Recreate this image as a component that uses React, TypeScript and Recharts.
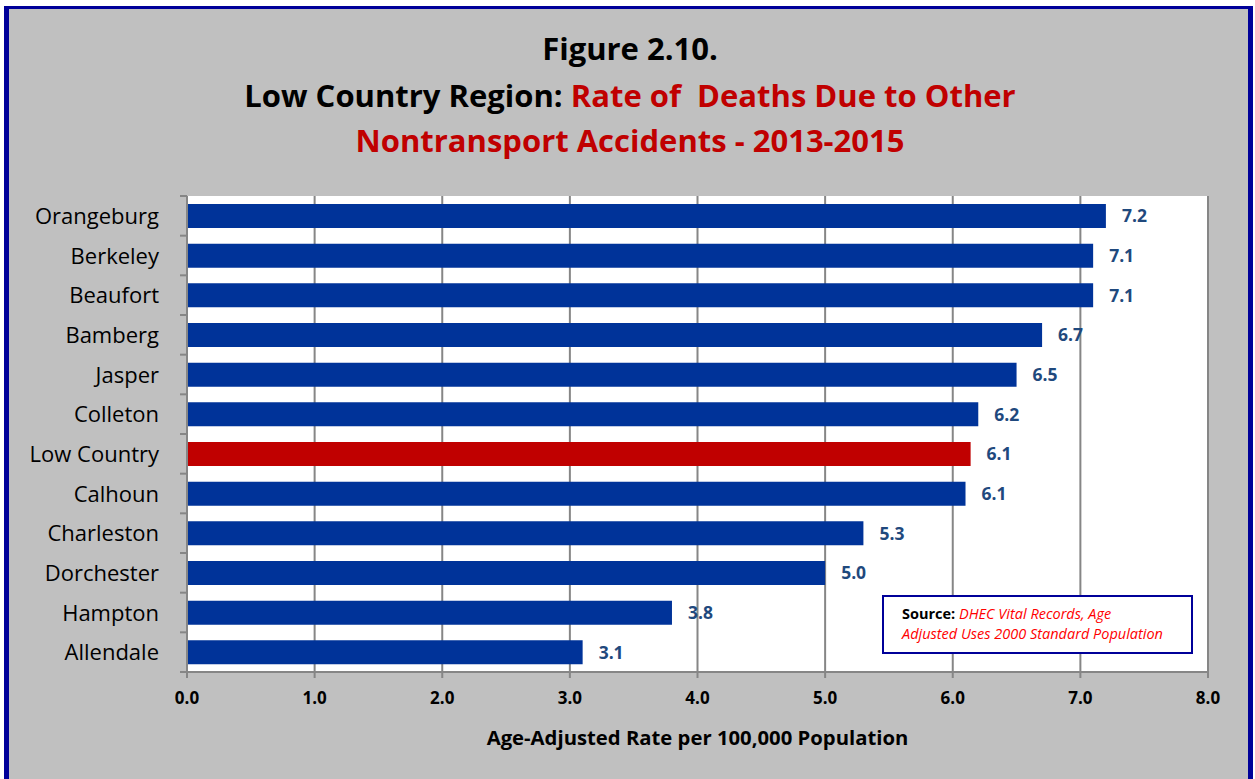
import React from "react";
import { BarChart, Bar, XAxis, YAxis, CartesianGrid, Cell, LabelList } from "recharts";

const categories = ["Orangeburg", "Berkeley", "Beaufort", "Bamberg", "Jasper", "Colleton", "Low Country", "Calhoun", "Charleston", "Dorchester", "Hampton", "Allendale"];
const rates = [7.2, 7.1, 7.1, 6.7, 6.5, 6.2, 6.14, 6.1, 5.3, 5.0, 3.8, 3.1];
const xTicks = [0, 1, 2, 3, 4, 5, 6, 7, 8];
const highlight = "Low Country";

const data = categories.map((name, i) => ({ name, rate: rates[i] }));

const FONT = "'Open Sans', Lato, sans-serif";
const BLUE = "#003399";
const RED = "#C00000";
const GRID = "#868686";

const W = 1255;
const H = 779;
const PLOT_TOP = 196;
const PLOT_BOTTOM = 672;
const PLOT_LEFT = 187;
const PLOT_RIGHT = 1208;
const BAND = (PLOT_BOTTOM - PLOT_TOP) / categories.length;

const YTick = (props: any) => {
  const { x, y, payload, index } = props;
  const isLast = index === categories.length - 1;
  return (
    <g>
      <line x1={PLOT_LEFT - 7} x2={PLOT_LEFT} y1={y - BAND / 2} y2={y - BAND / 2} stroke={GRID} strokeWidth={2} />
      {isLast && (
        <line x1={PLOT_LEFT - 7} x2={PLOT_LEFT} y1={y + BAND / 2} y2={y + BAND / 2} stroke={GRID} strokeWidth={2} />
      )}
      <text x={x - 20} y={y} dy={8} textAnchor="end" fontFamily={FONT} fontSize={22} fill="#000">
        {payload.value}
      </text>
    </g>
  );
};

export default function App() {
  return (
    <div style={{ position: "absolute", left: 0, top: 0, width: W, height: H, overflow: "hidden", background: "#fff" }}>
      <div
        style={{
          position: "absolute",
          left: 4,
          top: 6,
          width: 1253 - 4,
          height: 820,
          boxSizing: "border-box",
          borderLeft: "5px solid #000099",
          borderRight: "5px solid #000099",
          borderTop: "3px solid #000099",
          background: "#C0C0C0",
        }}
      />
      <div
        style={{
          position: "absolute",
          left: 0,
          width: 1260,
          top: 26,
          textAlign: "center",
          fontFamily: FONT,
          fontWeight: 700,
          fontSize: 31,
          lineHeight: "45px",
          color: "#000",
        }}
      >
        <div>Figure 2.10.</div>
        <div style={{ marginTop: 2 }}>
          Low Country Region: <span style={{ color: RED }}>Rate of&nbsp; Deaths Due to Other</span>
        </div>
        <div style={{ color: RED }}>Nontransport Accidents - 2013-2015</div>
      </div>
      <div style={{ position: "absolute", left: 0, top: 0 }}>
        <BarChart
          width={W}
          height={H}
          data={data}
          layout="vertical"
          margin={{ top: PLOT_TOP, right: W - PLOT_RIGHT, bottom: H - PLOT_BOTTOM - 40, left: 0 }}
          barCategoryGap="20%"
        >
          <CartesianGrid horizontal={false} vertical={true} stroke={GRID} strokeWidth={2} fill="#fff" />
          <XAxis
            type="number"
            domain={[0, 8]}
            ticks={xTicks}
            height={40}
            tickFormatter={(v: number) => v.toFixed(1)}
            tick={{ fontFamily: FONT, fontSize: 17, fontWeight: 700, fill: "#000" }}
            tickLine={{ stroke: GRID, strokeWidth: 2 }}
            tickSize={6}
            tickMargin={14}
            axisLine={{ stroke: GRID, strokeWidth: 2 }}
            interval={0}
          />
          <YAxis
            type="category"
            dataKey="name"
            width={PLOT_LEFT}
            tick={<YTick />}
            tickLine={false}
            axisLine={{ stroke: GRID, strokeWidth: 2 }}
            interval={0}
          />
          <Bar dataKey="rate" barSize={24} isAnimationActive={false}>
            {data.map((d) => (
              <Cell key={d.name} fill={d.name === highlight ? RED : BLUE} />
            ))}
            <LabelList
              dataKey="rate"
              position="right"
              offset={16}
              formatter={(v: any) => Number(v).toFixed(1)}
              style={{ fontFamily: FONT, fontSize: 17.5, fontWeight: 700, fill: "#1F497D" }}
            />
          </Bar>
        </BarChart>
      </div>
      <div
        style={{
          position: "absolute",
          left: 0,
          width: 1395,
          top: 723,
          textAlign: "center",
          fontFamily: FONT,
          fontWeight: 700,
          fontSize: 20.3,
          color: "#000",
        }}
      >
        Age-Adjusted Rate per 100,000 Population
      </div>
      <div
        style={{
          position: "absolute",
          left: 882,
          top: 595,
          width: 311,
          height: 59,
          boxSizing: "border-box",
          border: "2px solid #000099",
          background: "#fff",
          fontFamily: FONT,
          fontSize: 14.5,
          lineHeight: "20px",
          padding: "7px 0 0 18px",
          whiteSpace: "nowrap",
        }}
      >
        <span style={{ fontWeight: 700, color: "#000" }}>Source: </span>
        <span style={{ fontStyle: "italic", color: "#FF0000" }}>DHEC Vital Records, Age</span>
        <br />
        <span style={{ fontStyle: "italic", color: "#FF0000" }}>Adjusted Uses 2000 Standard Population</span>
      </div>
    </div>
  );
}
